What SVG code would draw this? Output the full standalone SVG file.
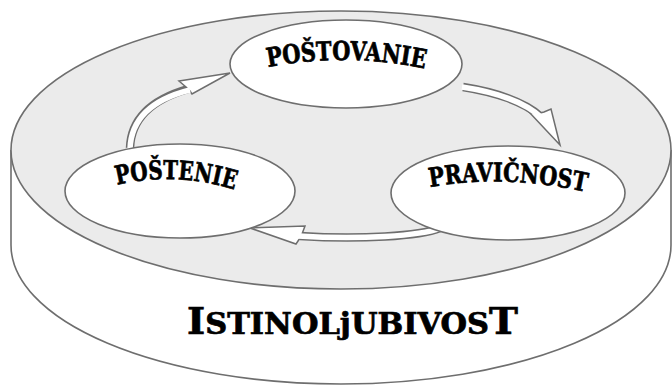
<svg xmlns="http://www.w3.org/2000/svg" width="672" height="386" viewBox="0 0 672 386">
<style>
.edge{fill:none;stroke:#6e6e6e;stroke-width:1.6}
.node{fill:#ffffff;stroke:#6e6e6e;stroke-width:1.6}
.lbl{font-family:"DejaVu Serif","Liberation Serif",serif;font-weight:bold;fill:#000;stroke:#000;stroke-width:0.7}
.shaftO{fill:none;stroke:#6e6e6e;stroke-width:8.5;stroke-linecap:butt}
.shaftI{fill:none;stroke:#ffffff;stroke-width:5.5;stroke-linecap:butt}
.head{fill:#ffffff;stroke:#6e6e6e;stroke-width:1.5;stroke-linejoin:miter}
</style>
<defs>
<path id="p1" d="M268,67 Q347,52 427,69"/>
<path id="p2" d="M117,185 Q175,171 236,190"/>
<path id="p3" d="M430,187 Q506,174 587,192"/>
</defs>
<g id="base">
<path d="M11,150 L11,245 A330,139 0 0 0 671,245 L671,150" fill="#ffffff" stroke="#6e6e6e" stroke-width="1.6"/>
<ellipse cx="341" cy="150" rx="330" ry="139" fill="#ebebeb" stroke="#6e6e6e" stroke-width="1.6"/>
<text class="lbl" x="187" y="334" font-size="29" textLength="331" lengthAdjust="spacingAndGlyphs"><tspan font-size="37">I</tspan>STINOLjUBIVOS<tspan font-size="37">T</tspan></text>
</g>
<g id="connectors">
<path class="shaftO" d="M130,148 C131,120 150,100 188,89"/>
<path class="shaftO" d="M463,87 C495,92 525,102 540,116"/>
<path class="shaftO" d="M440,228 C420,236 360,240 300,236"/>
<polygon class="head" points="230,73 179,81 186,87 190,91 192,94"/>
<polygon class="head" points="560,145 529,112 536,114 544,112 551,109"/>
<polygon class="head" points="250,228 305,226 302,234 300,238 296,244"/>
<path class="shaftI" d="M130,149 C131,120 150,100 190,90"/>
<path class="shaftI" d="M462,87 C495,92 525,102 542,118"/>
<path class="shaftI" d="M441,228 C420,236 360,240 298,236"/>
</g>
<g id="n_postovanje">
<ellipse class="node" cx="346" cy="64" rx="116" ry="44"/>
<text class="lbl" font-size="26"><textPath href="#p1" textLength="158" lengthAdjust="spacingAndGlyphs">POŠTOVANIE</textPath></text>
</g>
<g id="n_postenie">
<ellipse class="node" cx="180" cy="191" rx="115" ry="47"/>
<text class="lbl" font-size="26"><textPath href="#p2" textLength="119" lengthAdjust="spacingAndGlyphs">POŠTENIE</textPath></text>
</g>
<g id="n_pravicnost">
<ellipse class="node" cx="508" cy="193" rx="117" ry="47"/>
<text class="lbl" font-size="26"><textPath href="#p3" textLength="157" lengthAdjust="spacingAndGlyphs">PRAVIČNOST</textPath></text>
</g>
</svg>
